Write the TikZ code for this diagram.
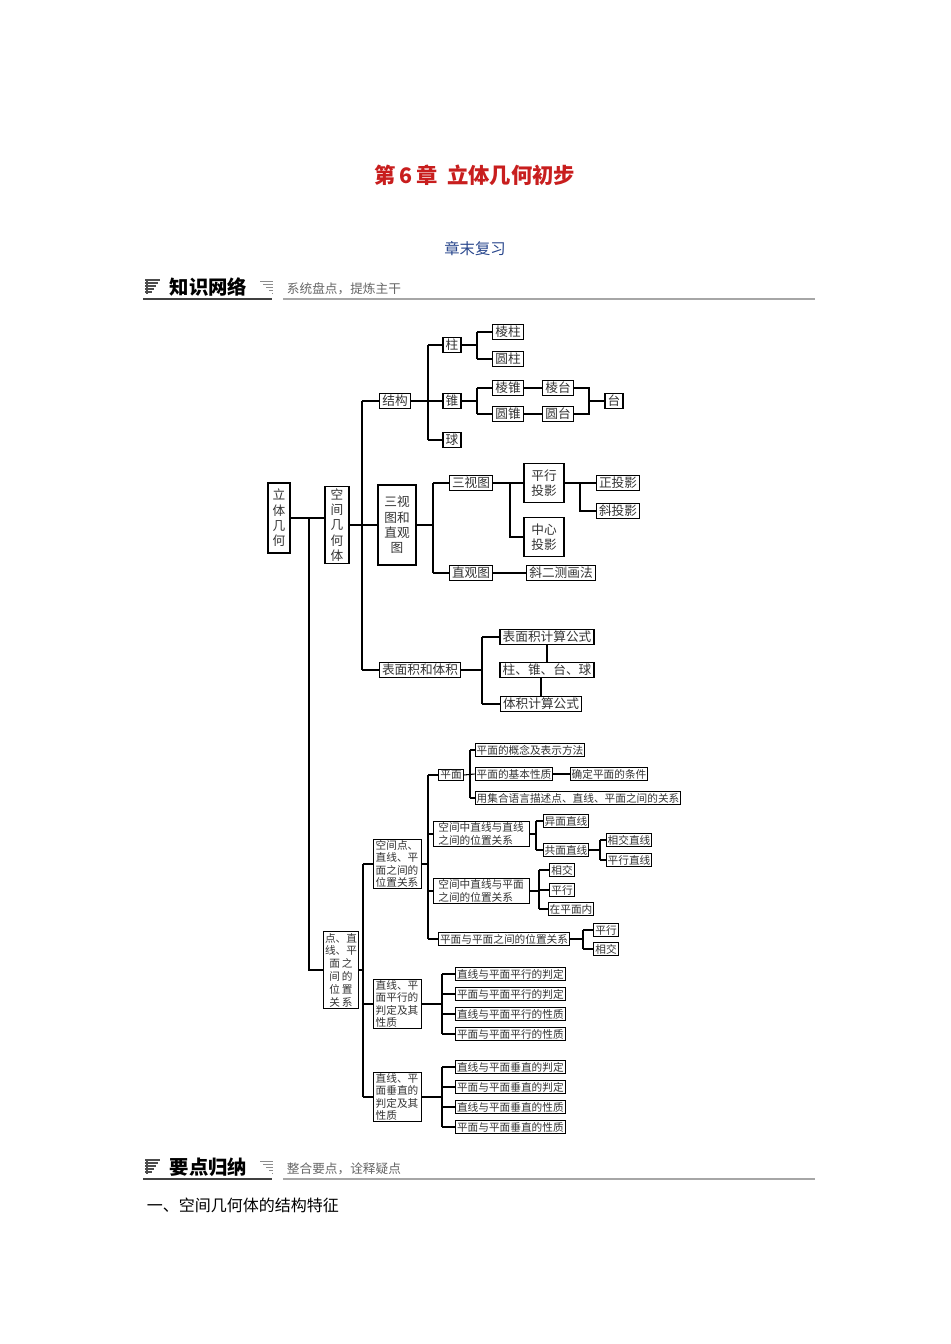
\documentclass[tikz,border=0pt]{standalone}
\usepackage{fontspec}
\setmainfont{Noto Sans CJK SC}
\begin{document}
\begin{tikzpicture}[x=0.75pt,y=-0.75pt,line width=0.8pt,
 bx/.style={draw,line width=0.8pt,inner xsep=2pt,inner ysep=1.3pt,font=\fontsize{9.5}{11}\selectfont,text=black!80},
 sb/.style={draw,line width=0.7pt,inner xsep=1.2pt,inner ysep=1pt,font=\fontsize{8}{9}\selectfont,text=black!80},
 vb/.style={bx,align=center,font=\fontsize{9.5}{11.5}\selectfont},
 vs/.style={sb,align=left,font=\fontsize{8}{9.2}\selectfont},
 ln/.style={draw,line width=0.8pt}]
\useasboundingbox (0,0) rectangle (950,1344);
% header
\node[text={rgb,255:red,200;green,30;blue,30},font=\fontsize{16}{18}\selectfont\bfseries] (title) at (475,175) {第\,6\,章\ \ 立体几何初步};
\node[text={rgb,255:red,40;green,70;blue,140},font=\fontsize{11.5}{13}\selectfont] (sub) at (475,249) {章末复习};
\foreach \yy/\ta/\tb/\nm in {287/知识网络/系统盘点，提炼主干/h1, 1167/要点归纳/整合要点，诠释疑点/h2}{
 \foreach \k in {0,1,2,3,4}{\draw[line width=0.9pt,black!70] (145,\yy-7+\k*3) -- (160-\k*2,\yy-7+\k*3);}
 \draw[line width=0.9pt,black!70] (147,\yy-7) -- (147,\yy+7);
 \node[anchor=west,font=\fontsize{14.5}{16}\selectfont\bfseries] (\nm a) at (165,\yy) {\ta};
 \foreach \k in {0,1,2,3,4}{\draw[line width=0.6pt,black!45] (272-\k*3,\yy+6-\k*3) -- (273,\yy+6-\k*3);}
 \node[anchor=west,text=black!60,font=\fontsize{9.5}{11}\selectfont] (\nm b) at (282,\yy+2) {\tb};
 \draw[line width=1.6pt,black!75] (143,\yy+12) -- (272,\yy+12);
 \draw[line width=1pt,black!35] (283,\yy+12) -- (815,\yy+12);
}
\node[anchor=west,font=\fontsize{12}{14}\selectfont] (sec) at (142,1205) {一、空间几何体的结构特征};
% upper tree
\node[vb,minimum width=22*0.75pt,minimum height=70*0.75pt] (lt) at (279,518) {立\\体\\几\\何};
\node[vb,minimum width=24*0.75pt,minimum height=76*0.75pt] (kj) at (337,525) {空\\间\\几\\何\\体};
\node[bx] (jg) at (395,401) {结构};
\node[bx] (zhu) at (452,345) {柱};
\node[bx] (zui) at (452,401) {锥};
\node[bx] (qiu) at (452,440) {球};
\node[bx] (lz) at (508,332) {棱柱};
\node[bx] (yz) at (508,359) {圆柱};
\node[bx] (lzh) at (508,388) {棱锥};
\node[bx] (yzh) at (508,414) {圆锥};
\node[bx] (lt2) at (558,388) {棱台};
\node[bx] (yt) at (558,414) {圆台};
\node[bx] (tai) at (614,401) {台};
\node[vb,minimum width=38*0.75pt,minimum height=80*0.75pt] (sst) at (397,525) {三视\\图和\\直观\\图};
\node[bx] (svt) at (471,483) {三视图};
\node[vb,minimum width=40*0.75pt,minimum height=39*0.75pt] (pxty) at (544,483) {平行\\投影};
\node[vb,minimum width=40*0.75pt,minimum height=39*0.75pt] (zxty) at (544,537) {中心\\投影};
\node[bx] (zty) at (618,483) {正投影};
\node[bx] (xty) at (618,511) {斜投影};
\node[bx] (zgt) at (471,573) {直观图};
\node[bx] (xec) at (561,573) {斜二测画法};
\node[bx] (bmj) at (420,670) {表面积和体积};
\node[bx] (bmgs) at (547,637) {表面积计算公式};
\node[bx] (zztq) at (547,670) {柱、锥、台、球};
\node[bx] (tjgs) at (541,704) {体积计算公式};
\coordinate (b1) at (309,518);
\coordinate (b2) at (362,525);
\coordinate (b3) at (428,401);
\coordinate (b4) at (477,345);
\coordinate (b5) at (477,401);
\coordinate (b6) at (589,401);
\coordinate (b7) at (433,525);
\coordinate (b8) at (510,483);
\coordinate (b9) at (580,483);
\coordinate (b10) at (482,670);
\draw[ln] (lt.east) -- (lt.east -| b1) -- (b1 -| kj.west);
\draw[ln] (kj.east) -- (b2);
\draw[ln] (b2 |- jg) -- (b2 |- bmj);
\foreach \n in {jg,sst,bmj}{\draw[ln] (b2 |- \n) -- (\n.west);}
\draw[ln] (jg.east) -- (zui.west);
\draw[ln] (b3 |- zhu) -- (b3 |- qiu);
\foreach \n in {zhu,qiu}{\draw[ln] (b3 |- \n) -- (\n.west);}
\draw[ln] (zhu.east) -- (b4); \draw[ln] (b4 |- lz) -- (b4 |- yz);
\foreach \n in {lz,yz}{\draw[ln] (b4 |- \n) -- (\n.west);}
\draw[ln] (zui.east) -- (b5); \draw[ln] (b5 |- lzh) -- (b5 |- yzh);
\foreach \n in {lzh,yzh}{\draw[ln] (b5 |- \n) -- (\n.west);}
\draw[ln] (lzh) -- (lt2); \draw[ln] (yzh) -- (yt);
\draw[ln] (lt2.east) -- (b6 |- lt2) -- (b6 |- yt) -- (yt.east);
\draw[ln] (b6) -- (tai.west);
\draw[ln] (sst.east) -- (b7); \draw[ln] (b7 |- svt) -- (b7 |- zgt);
\foreach \n in {svt,zgt}{\draw[ln] (b7 |- \n) -- (\n.west);}
\draw[ln] (svt.east) -- (pxty.west);
\draw[ln] (b8) |- (zxty.west);
\draw[ln] (pxty.east) -- (zty.west);
\draw[ln] (b9) |- (xty.west);
\draw[ln] (zgt) -- (xec);
\draw[ln] (bmj.east) -- (b10); \draw[ln] (b10 |- bmgs) -- (b10 |- tjgs);
\foreach \n in {bmgs,tjgs}{\draw[ln] (b10 |- \n) -- (\n.west);}
\draw[ln] (bmgs.south) -- (bmgs.south |- zztq.north);
\draw[ln] (zztq.south -| tjgs.north) -- (tjgs.north);
% lower tree
\node[vs,align=center,font=\fontsize{8}{9.6}\selectfont] (dx) at (341,970) {点、直\\线、平\\面\,之\\间\,的\\位\,置\\关\,系};
\draw[ln] (b1) -- (b1 |- dx) -- (dx.west);
\node[vs,minimum width=48*0.75pt] (kjd) at (397,864) {空间点、\\直线、平\\面之间的\\位置关系};
\node[vs,minimum width=48*0.75pt] (pxx) at (397,1004) {直线、平\\面平行的\\判定及其\\性质};
\node[vs,minimum width=48*0.75pt] (czx) at (397,1097) {直线、平\\面垂直的\\判定及其\\性质};
\coordinate (c1) at (363,970);
\draw[ln] (dx.east) -- (c1);
\draw[ln] (c1 |- kjd) -- (c1 |- czx);
\foreach \n in {kjd,pxx,czx}{\draw[ln] (c1 |- \n) -- (\n.west);}
\node[sb] (pm) at (451,775) {平面};
\node[sb] (gn) at (530,750) {平面的概念及表示方法};
\node[sb] (xz) at (514,774) {平面的基本性质};
\node[sb] (qd) at (609,774) {确定平面的条件};
\node[sb] (jh) at (578,798) {用集合语言描述点、直线、平面之间的关系};
\node[vs,minimum width=96*0.75pt] (zz) at (481,834) {空间中直线与直线\\之间的位置关系};
\node[sb] (ym) at (566,821) {异面直线};
\node[sb] (gm) at (566,850) {共面直线};
\node[sb] (xj) at (629,840) {相交直线};
\node[sb] (px) at (629,860) {平行直线};
\node[vs,minimum width=96*0.75pt] (zm) at (481,891) {空间中直线与平面\\之间的位置关系};
\node[sb] (xj2) at (562,870) {相交};
\node[sb] (px2) at (562,890) {平行};
\node[sb] (zpm) at (571,909) {在平面内};
\node[sb] (mm) at (504,939) {平面与平面之间的位置关系};
\node[sb] (px3) at (606,930) {平行};
\node[sb] (xj3) at (606,949) {相交};
\coordinate (c2) at (428,864);
\draw[ln] (kjd.east) -- (c2);
\draw[ln] (c2 |- pm) -- (c2 |- mm);
\foreach \n in {pm,zz,zm,mm}{\draw[ln] (c2 |- \n) -- (\n.west);}
\coordinate (c3) at (470,775);
\draw[ln] (pm.east) -- (xz.west);
\draw[ln] (c3 |- gn) -- (c3 |- jh);
\foreach \n in {gn,jh}{\draw[ln] (c3 |- \n) -- (\n.west);}
\draw[ln] (xz) -- (qd);
\coordinate (c4) at (536,834);
\draw[ln] (zz.east) -- (c4); \draw[ln] (c4 |- ym) -- (c4 |- gm);
\foreach \n in {ym,gm}{\draw[ln] (c4 |- \n) -- (\n.west);}
\coordinate (c5) at (600,850);
\draw[ln] (gm.east) -- (c5); \draw[ln] (c5 |- xj) -- (c5 |- px);
\foreach \n in {xj,px}{\draw[ln] (c5 |- \n) -- (\n.west);}
\coordinate (c6) at (539,891);
\draw[ln] (zm.east) -- (c6); \draw[ln] (c6 |- xj2) -- (c6 |- zpm);
\foreach \n in {xj2,px2,zpm}{\draw[ln] (c6 |- \n) -- (\n.west);}
\coordinate (c7) at (583,939);
\draw[ln] (mm.east) -- (c7); \draw[ln] (c7 |- px3) -- (c7 |- xj3);
\foreach \n in {px3,xj3}{\draw[ln] (c7 |- \n) -- (\n.west);}
\foreach \nm/\cy/\w in {p/1004/平行, c/1097/垂直}{
 \node[sb,anchor=west] (\nm1) at (455,\cy-30) {直线与平面\w 的判定};
 \node[sb,anchor=west] (\nm2) at (455,\cy-10) {平面与平面\w 的判定};
 \node[sb,anchor=west] (\nm3) at (455,\cy+10) {直线与平面\w 的性质};
 \node[sb,anchor=west] (\nm4) at (455,\cy+30) {平面与平面\w 的性质};
 \coordinate (\nm x) at (442,\cy);
 \draw[ln] (\nm x |- \nm1) -- (\nm x |- \nm4);
 \foreach \k in {1,2,3,4}{\draw[ln] (\nm x |- \nm\k) -- (\nm\k.west);}
}
\draw[ln] (pxx.east) -- (px);
\draw[ln] (czx.east) -- (cx);
\end{tikzpicture}
\end{document}
